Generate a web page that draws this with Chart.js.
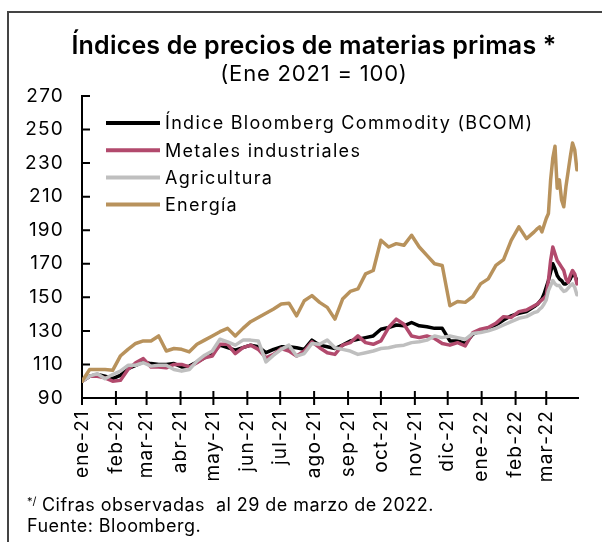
<!DOCTYPE html>
<html>
<head>
<meta charset="utf-8">
<script src="https://cdn.jsdelivr.net/npm/chart.js@4.4.0/dist/chart.umd.min.js"></script>
<style>
html,body{margin:0;padding:0;background:#fff;}
#wrap{position:relative;width:602px;height:542px;overflow:hidden;font-family:Inter,"Noto Sans",sans-serif;color:#000;}
#frameTop{position:absolute;left:7px;top:11px;width:600px;height:2px;background:#444;}
#frameLeft{position:absolute;left:7px;top:11px;width:2px;height:540px;background:#444;}
#title{position:absolute;left:0;width:628px;top:30px;text-align:center;font-weight:600;font-size:25px;line-height:30px;white-space:nowrap;letter-spacing:0.2px;}
#subtitle{position:absolute;left:0;width:628px;top:60px;text-align:center;font-weight:400;font-size:22px;line-height:26px;white-space:nowrap;letter-spacing:0.8px;}
#note{position:absolute;left:27px;top:491px;font-size:18px;line-height:21px;white-space:pre;letter-spacing:0.45px;}
#note sup{font-size:11px;vertical-align:6px;letter-spacing:0;}
#chartBox{position:absolute;left:0;top:0;width:602px;height:542px;}
</style>
</head>
<body>
<div id="wrap">
  <div id="chartBox"><canvas id="c" width="602" height="542"></canvas></div>
  <div id="frameTop"></div>
  <div id="frameLeft"></div>
  <div id="title">Índices de precios de materias primas *</div>
  <div id="subtitle">(Ene 2021 = 100)</div>
  <div id="note"><sup>*/</sup> Cifras observadas  al 29 de marzo de 2022.
Fuente: Bloomberg.</div>
</div>
<script>
// Days since 1 Jan 2021 for each observation
const days = [0,7,14,21,28,35,42,49,56,63,70,77,84,91,98,105,112,119,126,133,140,147,154,161,168,175,182,189,196,203,210,217,224,231,238,245,252,259,266,273,280,287,294,301,308,315,322,329,336,343,350,357,364,371,378,385,392,399,406,413,
  416,418,420,422,424,426,428,430,432,434,436,438,440,442,444,446,448,450,452];

const seriesNames = ['Índice Bloomberg Commodity (BCOM)','Metales industriales','Agricultura','Energía'];

const bcom = [100,103,104,103,101.5,103.5,107.5,109.5,111.5,110.5,
  110,110,110.5,108.5,109,111.5,114,116.5,121.5,120,
  118.5,120,121.5,120.5,117,119,120.5,120.5,120,119,
  124.5,121.5,120.5,119.5,121.5,124,125,126,127,131,
  132,133.5,133,135,133,132.5,131.5,131.5,124,124,
  122.5,128,130,131.5,133.5,136.5,139,140.5,141.5,144.5,
  146,147.5,149,152,156,160,165,170,167,163,161,160,158,158,159,161,164,163,160];

const metales = [100,103,103,102,100,100.5,107,111,113.5,108.5,
  108.5,108,110,110,108.5,111,114,115,122,122,
  116.5,120,121.5,119,114,116,119.5,118,115,118,
  123.5,120,117,116,121.5,123,127,123,122,124,
  132,137,134,127,126,127,125.5,122.5,121.5,123,
  121,129,131,132,134.5,138.5,138,141.5,142.5,145,
  146,147.5,148.5,149.5,151,160,172,180,176,172,170,168,166,161,159,163,166,164,158];

const agricultura = [100,103,104.5,101.5,104,106,109.5,109.5,111,109,
  109.5,109.5,107,106,107,112,115.5,118,125,123.5,
  121.5,124.5,124.5,124,111.5,115.5,119,121.5,115,116.5,
  122.5,122,124.5,120,119,118,116,117,118,119.5,
  120,121,121.5,123,123.5,124.5,127,126,127,126,
  125,128.5,129,130,131.5,133.5,135.5,137.5,138.5,141,
  141.5,143,144,146,148.5,154,157,160,158,157,157,155,153.5,154,155.5,157,158,156,151.5];

const energia = [100,107,107,107,106.5,115,119,122.5,124,124,
  127,118,119.5,119,117.5,122,124.5,127,129.5,131.5,
  127,131.5,135.5,138,140.5,143,146,146.5,139,148,
  151,147,144,137,149,153.5,155,164,166,184,
  180,182,181,187,180,175,170,169,145,147.5,
  147,150.5,158,161,169,172.5,184,192,185,189,
  191,192,189,193,197,200,220,233,240,215,220,208,204,216,225,234,242,238,226];

// Axis ticks
const monthTicks = [0,31,59,90,120,151,181,212,243,273,304,334,365,396,424];
const monthLabels = ['ene-21','feb-21','mar-21','abr-21','may-21','jun-21','jul-21','ago-21','sep-21','oct-21','nov-21','dic-21','ene-22','feb-22','mar-22'];
const yTicks = [90,110,130,150,170,190,210,230,250,270];

const colors = ['#000000','#B24A6D','#BFBFBF','#B8925C'];
const FONT = 'Inter, "Noto Sans", sans-serif';

const toXY = arr => days.map((d,i)=>({x:d,y:arr[i]}));
const allSeries = [bcom, metales, agricultura, energia];

const spacing = {
  id:'spacing',
  beforeDraw(chart){ try { chart.ctx.letterSpacing = '1.2px'; } catch(e) {} },
  afterDraw(chart){ try { chart.ctx.letterSpacing = '0px'; } catch(e) {} }
};

const insideLegend = {
  id:'insideLegend',
  afterDraw(chart){
    const {ctx, chartArea} = chart;
    ctx.save();
    chart.data.datasets.forEach((ds,i)=>{
      const y = chartArea.top + 27 + i*27.2;
      const x0 = chartArea.left + 24;
      ctx.strokeStyle = ds.borderColor;
      ctx.lineWidth = 4;
      ctx.lineCap = 'butt';
      ctx.beginPath(); ctx.moveTo(x0, y); ctx.lineTo(x0+54, y); ctx.stroke();
      ctx.fillStyle = '#000';
      ctx.font = '18px ' + FONT;
      try { ctx.letterSpacing = '1.3px'; } catch(e) {}
      ctx.textBaseline = 'middle';
      ctx.textAlign = 'left';
      ctx.fillText(ds.label, x0+59, y+1);
    });
    ctx.restore();
  }
};

const tickMarks = {
  id:'tickMarks',
  afterDraw(chart){
    const {ctx, chartArea, scales} = chart;
    ctx.save();
    ctx.strokeStyle = '#000';
    ctx.lineWidth = 2;
    ctx.beginPath();
    yTicks.forEach(v=>{
      if (v === yTicks[0]) return;
      const py = scales.y.getPixelForValue(v);
      ctx.moveTo(chartArea.left, py); ctx.lineTo(chartArea.left+8, py);
    });
    monthTicks.forEach(d=>{
      const px = scales.x.getPixelForValue(d);
      ctx.moveTo(px, chartArea.bottom-7); ctx.lineTo(px, chartArea.bottom+7);
    });
    ctx.stroke();
    ctx.restore();
  }
};

new Chart(document.getElementById('c'), {
  type:'line',
  data:{
    datasets: allSeries.map((arr,i)=>({
      label: seriesNames[i],
      data: toXY(arr),
      borderColor: colors[i],
      backgroundColor: colors[i],
      borderWidth: 3.5,
      pointRadius: 0,
      tension: 0,
      borderJoinStyle: 'round',
      borderCapStyle: 'round',
      order: 4 - i
    }))
  },
  options:{
    responsive:false,
    animation:false,
    devicePixelRatio:1,
    layout:{padding:{left:0,right:24,top:96,bottom:0}},
    plugins:{legend:{display:false}, tooltip:{enabled:false}, title:{display:false}},
    scales:{
      x:{
        type:'linear', min:0, max:453,
        grid:{display:false, drawTicks:false},
        border:{display:true, color:'#000', width:2},
        afterBuildTicks(scale){ scale.ticks = monthTicks.map(v=>({value:v})); },
        afterFit(scale){ scale.height = 144; },
        ticks:{
          autoSkip:false, minRotation:90, maxRotation:90, padding:12,
          color:'#000', font:{family:FONT, size:19},
          callback(v){ const i = monthTicks.indexOf(v); return i>=0 ? monthLabels[i] : ''; }
        }
      },
      y:{
        type:'linear', min:90, max:270,
        grid:{display:false, drawTicks:false},
        border:{display:true, color:'#000', width:2},
        afterBuildTicks(scale){ scale.ticks = yTicks.map(v=>({value:v})); },
        afterFit(scale){ scale.width = 82; },
        ticks:{ padding:18, color:'#000', font:{family:FONT, size:19} }
      }
    }
  },
  plugins:[spacing, tickMarks, insideLegend]
});
</script>
</body>
</html>
